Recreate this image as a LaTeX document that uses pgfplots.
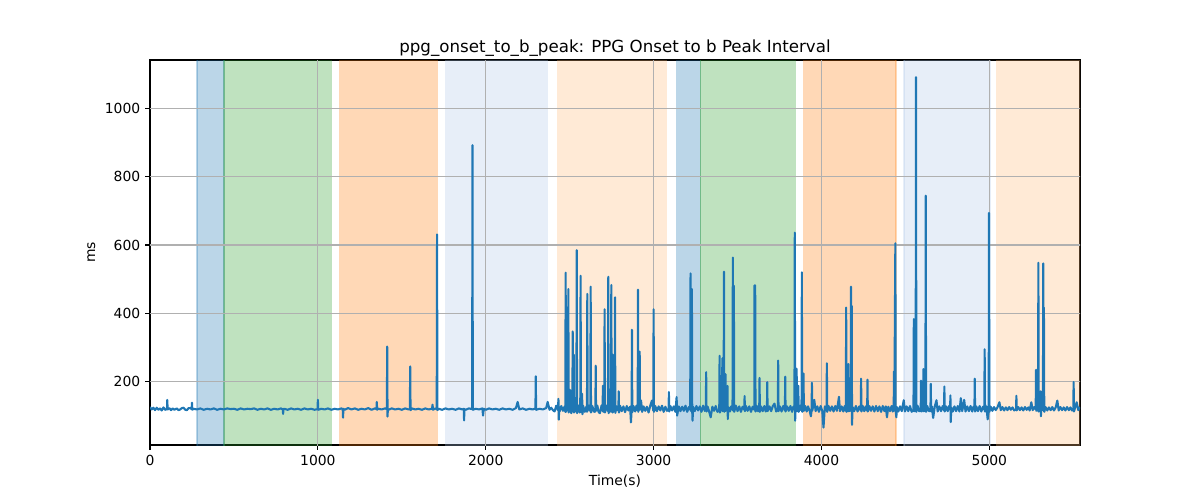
\documentclass[border=0pt]{standalone}
\usepackage{fontspec}
\setmainfont{DejaVu Sans}
\usepackage{pgfplots}
\pgfplotsset{compat=1.18}
\definecolor{mplblue}{HTML}{1F77B4}
\definecolor{mplorange}{HTML}{FF7F0E}
\definecolor{mplgreen}{HTML}{2CA02C}
\definecolor{lblue}{HTML}{AEC7E8}
\definecolor{lorange}{HTML}{FFBB78}
\definecolor{gridgray}{HTML}{B0B0B0}
\pgfplotsset{
  vspan/.style={fill=#1, fill opacity=0.3, draw=#1, draw opacity=0.3, line width=1pt},
  gl/.style={gridgray, line width=0.8pt},
}
\begin{document}
\begin{tikzpicture}
\path[use as bounding box] (0,0) rectangle (864pt,360pt);
\begin{axis}[
  at={(108pt,39.6pt)}, anchor=south west,
  width=669.6pt, height=277.2pt, scale only axis,
  xmin=0, xmax=5540, ymin=15, ymax=1141,
  xtick={0,1000,...,5000}, ytick={200,400,...,1000},
  tick align=outside, tick pos=left, major tick length=3.5pt,
  every tick/.style={black, line width=0.8pt},
  axis line style={line width=0.8pt},
  ticklabel style={font=\fontsize{10}{12}\selectfont},
  /pgf/number format/assume math mode=true,
  /pgf/number format/set thousands separator={},
  title={ppg\_onset\_to\_b\_peak: PPG Onset to b Peak Interval},
  title style={font=\fontsize{12}{14}\selectfont, at={(0.5,1)}, anchor=base, yshift=-0.7pt, inner sep=0pt},
  xlabel={Time(s)}, ylabel={ms},
  label style={font=\fontsize{10}{12}\selectfont},
]
\addplot[vspan=mplblue] coordinates {(279,-100) (440,-100) (440,1300) (279,1300)} -- cycle;
\addplot[vspan=mplgreen] coordinates {(440,-100) (1080,-100) (1080,1300) (440,1300)} -- cycle;
\addplot[vspan=mplorange] coordinates {(1129,-100) (1711,-100) (1711,1300) (1129,1300)} -- cycle;
\addplot[vspan=lblue] coordinates {(1761,-100) (2367,-100) (2367,1300) (1761,1300)} -- cycle;
\addplot[vspan=lorange] coordinates {(2428,-100) (3076,-100) (3076,1300) (2428,1300)} -- cycle;
\addplot[vspan=mplblue] coordinates {(3138,-100) (3279,-100) (3279,1300) (3138,1300)} -- cycle;
\addplot[vspan=mplgreen] coordinates {(3279,-100) (3845,-100) (3845,1300) (3279,1300)} -- cycle;
\addplot[vspan=mplorange] coordinates {(3894,-100) (4443,-100) (4443,1300) (3894,1300)} -- cycle;
\addplot[vspan=lblue] coordinates {(4492,-100) (5003,-100) (5003,1300) (4492,1300)} -- cycle;
\addplot[vspan=lorange] coordinates {(5043,-100) (5600,-100) (5600,1300) (5043,1300)} -- cycle;

\addplot[gl] coordinates {(1000,-100) (1000,1300)};
\addplot[gl] coordinates {(2000,-100) (2000,1300)};
\addplot[gl] coordinates {(3000,-100) (3000,1300)};
\addplot[gl] coordinates {(4000,-100) (4000,1300)};
\addplot[gl] coordinates {(5000,-100) (5000,1300)};
\addplot[gl] coordinates {(-100,200) (5700,200)};
\addplot[gl] coordinates {(-100,400) (5700,400)};
\addplot[gl] coordinates {(-100,600) (5700,600)};
\addplot[gl] coordinates {(-100,800) (5700,800)};
\addplot[gl] coordinates {(-100,1000) (5700,1000)};

\addplot[mplblue, line width=1.5pt, line join=round] coordinates {
(0,126) (10,119) (20,124) (30,117) (40,124) (50,118) (60,122) (70,116) (80,125) (90,118) (101,120) (103,147) (105,119)
(115,123) (125,117) (135,122) (145,118) (160,122) (170,117) (180,119) (190,123) (200,124) (210,118) (220,117) (230,123) (240,123) (248,120) (250,139) (252,118)
(260,121) (280,119) (300,122) (320,118) (340,121) (360,119) (380,122) (400,118) (420,121) (440,119)
(460,122) (480,120) (500,121) (520,118) (540,122) (560,119) (580,121) (600,120) (620,122) (640,118)
(660,121) (680,119) (700,122) (720,118) (740,121) (760,119) (780,122) (791,119) (793,106) (795,120)
(800,121) (820,118) (840,122) (860,119) (880,121) (900,118) (920,122) (940,119) (960,121) (980,118)
(998,120) (1000,147) (1002,118) (1020,121) (1040,119) (1060,122) (1080,118) (1100,121) (1120,119)
(1140,122) (1148,120) (1150,95) (1152,121) (1160,118) (1180,123) (1200,119) (1220,122) (1240,118)
(1260,121) (1280,119) (1300,123) (1320,118) (1340,122) (1349,120) (1351,141) (1353,118) (1360,121)
(1380,119) (1400,122) (1411,120) (1413,303) (1415,98) (1417,121) (1420,118) (1440,122) (1460,119)
(1480,121) (1500,118) (1520,122) (1540,119) (1548,120) (1550,245) (1552,117) (1560,122) (1580,119)
(1600,121) (1620,118) (1640,122) (1660,119) (1680,121) (1683,133) (1686,118) (1700,122) (1708,120)
(1710,631) (1712,117) (1720,121) (1740,118) (1760,122) (1780,119) (1800,121) (1820,118) (1840,122)
(1860,119) (1869,121) (1871,87) (1873,120) (1880,118) (1900,122) (1919,120) (1921,892) (1923,118)
(1940,121) (1960,119) (1980,122) (1984,101) (1988,121) (2000,118) (2020,122) (2040,119) (2060,121)
(2080,118) (2100,122) (2120,119) (2140,121) (2160,118) (2180,123) (2190,141) (2200,119) (2220,122)
(2240,118) (2260,121) (2280,119) (2296,122) (2298,216) (2300,118) (2320,121) (2340,119) (2360,123)
(2369,141) (2380,118) (2390,124) (2400,117)
(2410,113) (2420,130) (2430,117) (2433,150) (2435,89) (2438,126) (2440,113) (2450,129) (2460,115) (2470,128)
(2474,112) (2476,519) (2478,112) (2480,130) (2490,117) (2492,471) (2494,110) (2500,128) (2502,176) (2504,118)
(2510,108) (2516,130) (2518,347) (2520,114) (2524,279) (2526,110) (2530,132) (2540,112) (2542,585) (2544,108)
(2550,131) (2560,110) (2563,115) (2565,510) (2567,112) (2572,128) (2574,165) (2576,105) (2580,130) (2590,112)
(2600,128) (2603,112) (2605,457) (2607,115) (2615,130) (2623,114) (2625,478) (2627,110) (2635,129) (2645,112)
(2653,113) (2655,247) (2657,115) (2665,130) (2672,112) (2680,108) (2690,131) (2696,115) (2698,188) (2700,112)
(2706,128) (2708,412) (2710,110) (2720,130) (2728,114) (2730,507) (2732,108) (2740,129) (2746,112) (2748,483)
(2750,118) (2755,280) (2757,110) (2760,131) (2768,113) (2770,447) (2772,109) (2780,128) (2790,115) (2792,172)
(2794,110) (2800,130) (2810,114) (2820,128) (2830,111) (2840,129) (2850,116) (2860,127) (2865,81) (2869,118)
(2871,352) (2873,111) (2880,129) (2890,113) (2898,130) (2905,116) (2907,469) (2909,112) (2917,288) (2919,118)
(2925,145) (2932,112) (2940,128) (2950,115) (2960,127) (2970,110) (2980,130) (2990,145) (2998,116) (3000,412)
(3002,112) (3010,129) (3020,114) (3030,128) (3040,116) (3050,130) (3060,112) (3070,127) (3080,115) (3089,118)
(3091,170) (3093,113) (3100,129) (3110,116) (3120,128) (3130,112) (3137,155) (3140,101) (3150,128) (3160,114)
(3170,127) (3180,115) (3190,130) (3200,112) (3210,126) (3218,118) (3220,517) (3222,115) (3226,124) (3228,471)
(3230,112) (3232,86) (3235,127) (3245,114) (3255,129) (3265,116) (3275,128) (3285,112) (3295,130) (3305,115)
(3311,118) (3313,228) (3315,113) (3322,127) (3330,114) (3340,96) (3350,127) (3360,115) (3370,129) (3380,112)
(3391,118) (3393,276) (3395,110) (3405,128) (3410,269) (3412,114) (3417,118) (3419,522) (3421,112) (3428,222)
(3430,115) (3436,128) (3440,188) (3442,91) (3445,126) (3455,113) (3462,128) (3470,118) (3472,563) (3474,115)
(3478,481) (3480,112) (3490,130) (3500,114) (3510,128) (3520,112) (3530,127) (3540,118) (3542,158) (3544,114)
(3550,129) (3560,115) (3570,128) (3580,112) (3590,127) (3600,118) (3601,482) (3605,482) (3607,113) (3615,129)
(3622,114) (3629,115) (3631,211) (3633,112) (3640,128) (3650,114) (3660,129) (3668,113) (3675,118) (3677,199)
(3679,114) (3690,128) (3700,114) (3710,129) (3720,136) (3730,113) (3740,118) (3742,262) (3744,114) (3752,128)
(3762,113) (3772,129) (3782,116) (3784,215) (3786,113) (3795,128) (3805,115) (3815,129) (3825,112) (3832,127)
(3839,118) (3841,636) (3843,86) (3846,125) (3852,238) (3854,114) (3862,188) (3864,112) (3874,130) (3881,116)
(3883,520) (3885,112) (3893,224) (3895,115) (3903,129) (3912,113) (3920,128) (3930,114) (3937,99) (3941,118)
(3943,197) (3945,115) (3950,128) (3957,147) (3965,114) (3975,128) (3985,112) (3995,129) (4005,114) (4012,66)
(4020,128) (4030,116) (4032,254) (4034,112) (4042,129) (4052,115) (4062,128) (4072,113) (4082,129) (4092,115)
(4104,156) (4110,114) (4120,128) (4130,113) (4138,129) (4145,115) (4147,417) (4149,112) (4158,118) (4160,252)
(4162,114) (4174,116) (4176,478) (4178,118) (4180,422) (4182,74) (4185,126) (4195,114) (4205,129) (4215,113)
(4225,128) (4234,116) (4236,209) (4238,113) (4246,129) (4255,114) (4264,128) (4272,115) (4274,206) (4276,113)
(4285,129) (4295,115) (4305,128) (4315,113) (4325,129) (4335,114) (4345,128) (4355,112) (4365,129) (4375,114)
(4383,128) (4390,96) (4398,127) (4408,114) (4418,129) (4425,113) (4430,118) (4432,230) (4434,116) (4440,605)
(4442,114) (4446,96) (4449,126) (4458,113) (4468,128) (4478,114) (4490,146) (4497,113) (4507,128) (4517,114)
(4527,129) (4537,112) (4548,118) (4550,383) (4552,114) (4561,116) (4563,1091) (4565,112) (4572,130) (4582,114)
(4591,116) (4593,203) (4595,113) (4605,118) (4607,237) (4609,114) (4619,117) (4621,744) (4623,112) (4630,129)
(4640,114) (4649,115) (4651,194) (4653,113) (4658,128) (4665,94) (4675,128) (4685,146) (4692,113) (4702,128)
(4712,114) (4722,129) (4730,116) (4732,186) (4734,113) (4742,128) (4752,114) (4760,129) (4766,118) (4768,160)
(4770,82) (4773,125) (4782,113) (4792,128) (4802,114) (4812,129) (4822,113) (4830,152) (4838,114) (4844,128)
(4850,147) (4858,113) (4868,128) (4878,114) (4888,129) (4898,113) (4905,127) (4911,118) (4913,209) (4915,113)
(4922,128) (4932,114) (4942,129) (4952,113) (4962,127) (4970,118) (4972,295) (4974,113) (4982,128) (4990,90)
(4996,117) (4998,694) (5000,112) (5008,127) (5018,115) (5028,126) (5038,117) (5048,125) (5060,140) (5068,117)
(5078,126) (5088,116) (5098,125) (5108,117) (5118,126) (5128,118) (5138,125) (5148,116) (5159,120) (5161,159)
(5163,116) (5172,126) (5182,117) (5192,125) (5202,116) (5212,126) (5222,118) (5232,125) (5240,116) (5250,140)
(5258,117) (5268,126) (5276,119) (5278,235) (5280,115) (5290,118) (5292,548) (5294,113) (5303,120) (5305,172)
(5307,99) (5310,124) (5319,117) (5321,546) (5323,120) (5325,417) (5327,112) (5335,126) (5345,116) (5355,125)
(5365,117) (5375,126) (5385,116) (5395,125) (5405,145) (5413,116) (5423,126) (5433,117) (5443,125) (5453,116)
(5463,126) (5473,117) (5483,125) (5492,116) (5500,118) (5502,199) (5504,113) (5512,126) (5520,140) (5530,117)
(5540,126)
};
\end{axis}
\end{tikzpicture}
\end{document}
